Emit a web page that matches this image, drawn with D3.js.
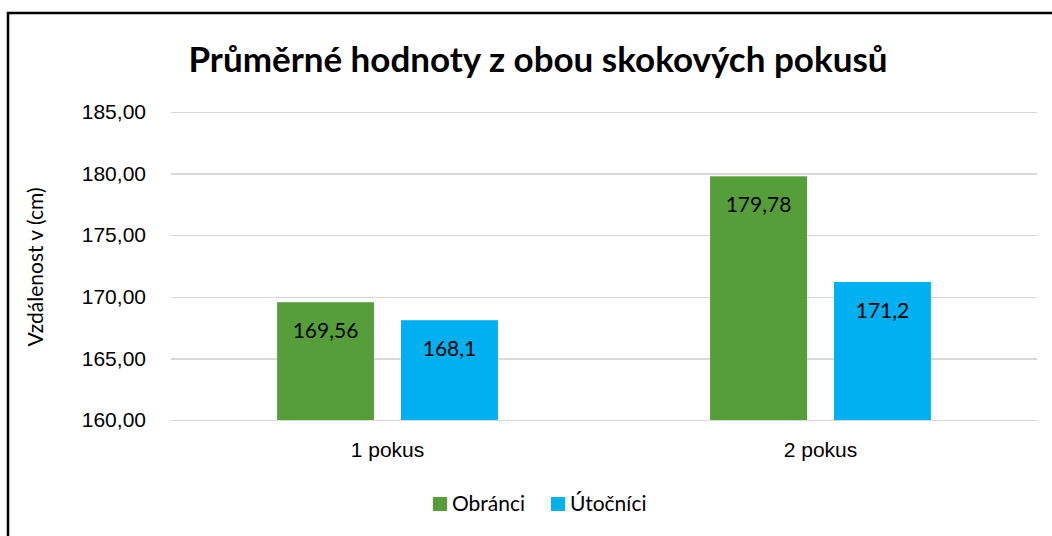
<!DOCTYPE html>
<meta charset="utf-8">
<style>
  body { margin: 0; background: #fff; }
  svg { font-family: Lato, "Open Sans", sans-serif; }
  .grid line { stroke: #d9d9d9; stroke-width: 1.5px; shape-rendering: crispEdges; }
  .grid path { display: none; }
  .axis path, .axis line { display: none; }
  .axis text { font-size: 21px; fill: #000; }
</style>
<body>
<script src="https://d3js.org/d3.v7.min.js"></script>
<script>
  var categories = ["1 pokus", "2 pokus"];
  var seriesNames = ["Obránci", "Útočníci"];
  var obranci = [169.56, 179.78];
  var utocnici = [168.1, 171.2];
  var valueLabels = [["169,56", "179,78"], ["168,1", "171,2"]];
  var yTicks = [160, 165, 170, 175, 180, 185];
  var colors = ["#559E3A", "#00B0F0"];

  var W = 1052, H = 536;
  var m = {top: 112, right: 15, bottom: 116, left: 171};
  var w = W - m.left - m.right, h = H - m.top - m.bottom;

  var svg = d3.select("body").append("svg")
      .attr("width", W).attr("height", H);

  // chart frame (only top and left edges are visible in the picture)
  svg.append("rect")
      .attr("x", 8).attr("y", 13)
      .attr("width", W + 20).attr("height", H + 20)
      .attr("fill", "none").attr("stroke", "#000").attr("stroke-width", 2.5);

  var g = svg.append("g").attr("transform", "translate(" + m.left + "," + m.top + ")");

  var x0 = d3.scaleBand().domain(categories).range([0, w]).paddingInner(0.49).paddingOuter(0.245);
  var x1 = d3.scaleBand().domain(seriesNames).range([0, x0.bandwidth()]).paddingInner(0.218);
  var y = d3.scaleLinear().domain([160, 185]).range([h, 0]);

  g.append("g").attr("class", "grid")
      .call(d3.axisLeft(y).tickValues(yTicks).tickSize(-w).tickFormat(""));

  g.append("g").attr("class", "axis")
      .attr("transform", "translate(-22,0)")
      .call(d3.axisLeft(y).tickValues(yTicks).tickSize(0)
        .tickFormat(function(d) { return d3.format(".2f")(d).replace(".", ","); }));

  g.append("g").attr("class", "axis")
      .attr("transform", "translate(0," + (h + 18) + ")")
      .call(d3.axisBottom(x0).tickSize(0))
      .selectAll("text").attr("dy", "0.75em");

  var series = [obranci, utocnici];
  series.forEach(function(vals, si) {
    var grp = g.append("g");
    grp.selectAll("rect").data(vals).enter().append("rect")
        .attr("x", function(d, i) { return x0(categories[i]) + x1(seriesNames[si]); })
        .attr("y", function(d) { return y(d); })
        .attr("width", x1.bandwidth())
        .attr("height", function(d) { return h - y(d); })
        .attr("fill", colors[si]);
    grp.selectAll("text").data(vals).enter().append("text")
        .attr("x", function(d, i) { return x0(categories[i]) + x1(seriesNames[si]) + x1.bandwidth() / 2; })
        .attr("y", function(d) { return y(d) + 36; })
        .attr("text-anchor", "middle")
        .attr("font-size", 21)
        .attr("fill", "#000")
        .text(function(d, i) { return valueLabels[si][i]; });
  });

  svg.append("text")
      .attr("x", 538).attr("y", 72)
      .attr("text-anchor", "middle")
      .attr("font-size", 35).attr("font-weight", "bold")
      .text("Průměrné hodnoty z obou skokových pokusů");

  svg.append("text")
      .attr("transform", "translate(43," + 267 + ") rotate(-90)")
      .attr("text-anchor", "middle")
      .attr("font-size", 21)
      .text("Vzdálenost v (cm)");

  var legend = svg.append("g").attr("transform", "translate(433,497)");
  var lx = [0, 118];
  seriesNames.forEach(function(name, i) {
    legend.append("rect").attr("x", lx[i]).attr("y", 0).attr("width", 14).attr("height", 14).attr("fill", colors[i]);
    legend.append("text").attr("x", lx[i] + 19).attr("y", 14).attr("font-size", 21).text(name);
  });
</script>
</body>
